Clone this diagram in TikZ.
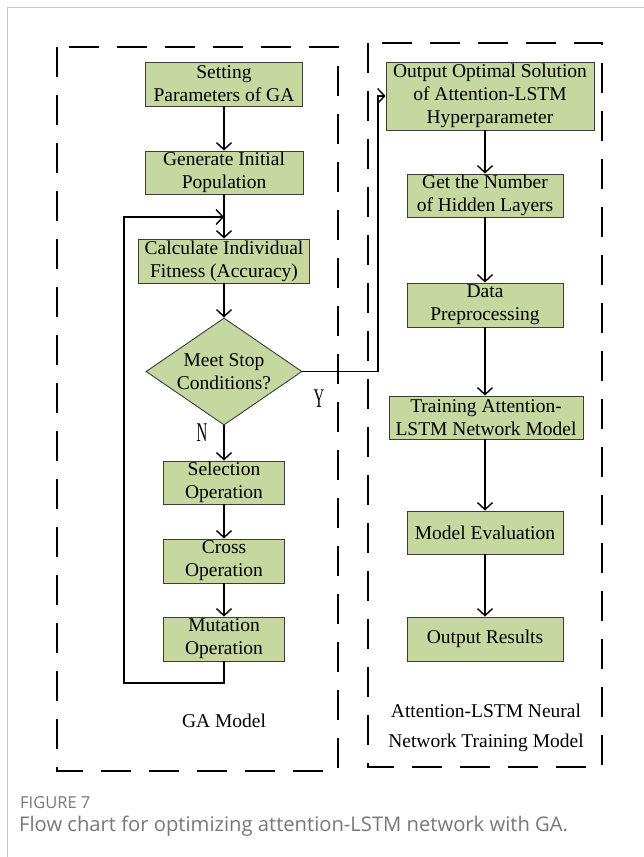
\documentclass[tikz,border=0pt]{standalone}
\usepackage{fontspec}
\setmainfont{Liberation Serif}
\newfontfamily\capfont{Open Sans}
\usetikzlibrary{shapes.geometric,arrows.meta}
\definecolor{boxfill}{RGB}{198,216,160}
\definecolor{boxline}{RGB}{60,60,60}
\definecolor{capgray}{RGB}{120,120,120}
\definecolor{framegray}{RGB}{200,200,200}
\tikzset{
  stepbox/.style={draw=boxline, fill=boxfill, line width=0.9pt, inner sep=0pt,
    align=center, font=\fontsize{19.5}{23}\selectfont},
  dia/.style={diamond, draw=boxline, fill=boxfill, line width=0.9pt, inner sep=0pt,
    minimum width=156pt, minimum height=107pt},
  arr/.style={line width=1.4pt, -{Straight Barb[length=7pt,width=15pt,line width=1.4pt]}},
  region/.style={line width=2.3pt, dash pattern=on 30pt off 18pt},
  tag/.style={font=\fontsize{19.5}{30}\selectfont, align=center},
  yn/.style={font=\fontsize{27}{27}\selectfont, inner sep=0pt}
}
\begin{document}
\begin{tikzpicture}[x=1pt,y=-1pt]
\useasboundingbox (0,0) rectangle (644,857);
\fill[white] (0,0) rectangle (644,857);
% page frame
\draw[framegray, line width=1pt] (7,857) -- (7,7) -- (644,7);

% dashed regions
\draw[region] (57,47) rectangle (338,771);
\draw[region] (368,43) rectangle (602,767);

% GA model column
\node[stepbox, minimum width=157pt, minimum height=44pt] (s1) at (224,84) {Setting\\Parameters of GA};
\node[stepbox, minimum width=158pt, minimum height=43pt] (s2) at (224,172.5) {Generate Initial\\Population};
\node[stepbox, minimum width=171pt, minimum height=44pt] (s3) at (224,261) {Calculate Individual\\Fitness (Accuracy)};
\node[dia] (d) at (224,371.5) {};
\node[stepbox, draw=none, fill=none] (dtxt) at (224,371.5) {Meet Stop\\Conditions?};
\node[stepbox, minimum width=121pt, minimum height=43pt] (s4) at (224,482.5) {Selection\\Operation};
\node[stepbox, minimum width=121pt, minimum height=44pt] (s5) at (224,561) {Cross\\Operation};
\node[stepbox, minimum width=121pt, minimum height=44pt] (s6) at (224,639) {Mutation\\Operation};

% Attention-LSTM column
\node[stepbox, minimum width=208pt, minimum height=68pt] (r1) at (490,96) {Output Optimal Solution\\of Attention-LSTM\\Hyperparameter};
\node[stepbox, minimum width=156pt, minimum height=43pt] (r2) at (485,195.5) {Get the Number\\of Hidden Layers};
\node[stepbox, minimum width=156pt, minimum height=44pt] (r3) at (485,305) {Data\\Preprocessing};
\node[stepbox, minimum width=194pt, minimum height=43pt] (r4) at (486,417.5) {Training Attention-\\LSTM Network Model};
\node[stepbox, minimum width=156pt, minimum height=43pt] (r5) at (485,532.5) {Model Evaluation};
\node[stepbox, minimum width=156pt, minimum height=44pt] (r6) at (485,639) {Output Results};

% region captions
\node[tag] (galabel) at (224,721) {GA Model};
\node[tag] (lstmlabel) at (486,728) {Attention-LSTM Neural\\Network Training Model};

% branch labels
\node[yn] (ylab) at (319,399) {\scalebox{0.55}[1]{Y}};
\node[yn] (nlab) at (202,433) {\scalebox{0.55}[1]{N}};

% GA flow
\draw[arr] (s1) -- (s2);
\draw[arr] (s2) -- (s3);
\draw[arr] (s3) -- (d);
\draw[arr] (d) -- (s4);
\draw[arr] (s4) -- (s5);
\draw[arr] (s5) -- (s6);
\coordinate (loopb) at (124,683);
\coordinate (join) at (224,217);
\draw[arr] (s6.south) |- (loopb) |- (join);

% exit to the LSTM column
\coordinate (ybend) at (378,371.5);
\draw[arr] (d.east) -- (ybend) |- (r1.west);

% LSTM flow
\draw[arr] (r2.north |- r1.south) -- (r2);
\draw[arr] (r2) -- (r3);
\draw[arr] (r3) -- (r4.north -| r3);
\draw[arr] (r4.south -| r5) -- (r5);
\draw[arr] (r5) -- (r6);

% figure caption
\node[anchor=west, inner sep=0pt, text=capgray, font=\capfont\fontsize{16.5}{19}\selectfont] (fig) at (20,803) {FIGURE 7};
\node[anchor=west, inner sep=0pt, text=capgray, font=\capfont\fontsize{20.2}{24}\selectfont] (cap) at (19,826) {Flow chart for optimizing attention-LSTM network with GA.};
\end{tikzpicture}
\end{document}
